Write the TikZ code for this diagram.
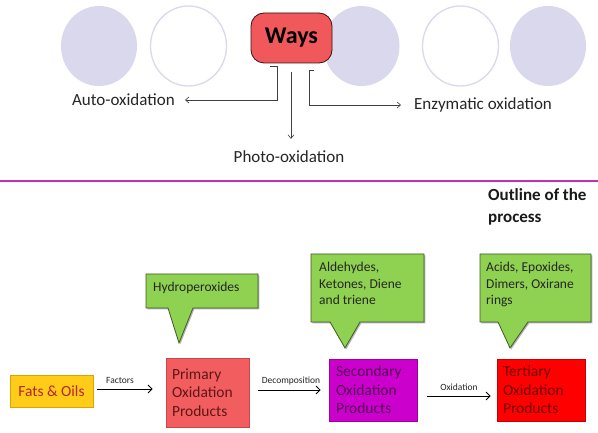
\documentclass[tikz,border=0pt]{standalone}
\usepackage{fontspec}
\setmainfont{Carlito}
\usetikzlibrary{arrows.meta,shadows}
\definecolor{lav}{HTML}{DAD8EC}
\definecolor{waysred}{HTML}{F0585C}
\definecolor{waysedge}{HTML}{3A1212}
\definecolor{sepline}{HTML}{C42FB8}
\definecolor{callfill}{HTML}{8FD150}
\definecolor{calledge}{HTML}{3F5C22}
\definecolor{primfill}{HTML}{F25E60}
\definecolor{primedge}{HTML}{C84848}
\definecolor{primtext}{HTML}{5E1616}
\definecolor{secfill}{HTML}{CC00CC}
\definecolor{secedge}{HTML}{A000A0}
\definecolor{sectext}{HTML}{560056}
\definecolor{terfill}{HTML}{FF0000}
\definecolor{teredge}{HTML}{C80000}
\definecolor{tertext}{HTML}{6E0000}
\definecolor{fatfill}{HTML}{FFCC1A}
\definecolor{fatedge}{HTML}{D9A300}
\definecolor{fattext}{HTML}{B82428}
\definecolor{toparrow}{HTML}{404040}
\begin{document}
\begin{tikzpicture}[x=1pt,y=-1pt,
  shad/.style={drop shadow={shadow xshift=1.3pt,shadow yshift=-1.3pt,opacity=0.3,fill=black}},
  filledc/.style={fill=lav,draw=none},
  openc/.style={fill=white,draw=lav,line width=1.3pt},
  toptext/.style={inner sep=0pt,font=\fontsize{17}{20}\selectfont,text=black!85},
  tarr/.style={draw=toparrow,line width=0.6pt,-{Straight Barb[length=3.5pt,width=6pt]}},
  prodbox/.style={line width=0.6pt,align=left,inner ysep=0pt,font=\fontsize{15.5}{18.5}\selectfont,shad},
  calltext/.style={inner sep=0pt,align=left,font=\fontsize{13.5}{16.5}\selectfont,text=black!85},
  callbody/.style={fill=callfill,draw=calledge,line width=0.8pt,line join=miter,shad},
  flow/.style={draw=black,line width=0.9pt,-{Straight Barb[length=4pt,width=8pt]}},
  lbl/.style={inner sep=0pt,font=\fontsize{9.5}{11}\selectfont,text=black!85}]
\useasboundingbox[fill=white] (0,0) rectangle (598,433);

% decorative circles
\path[filledc] (99,46) ellipse [x radius=38pt, y radius=40pt];
\path[openc] (188.5,46) ellipse [x radius=38pt, y radius=40pt];
\path[filledc] (361.5,46) ellipse [x radius=38pt, y radius=40pt];
\path[openc] (460.5,46) ellipse [x radius=38pt, y radius=40pt];
\path[filledc] (548,46) ellipse [x radius=38pt, y radius=40pt];

% Ways
\node[draw=waysedge,fill=waysred,line width=0.8pt,rounded corners=13pt,
      minimum width=81pt,minimum height=50pt,inner sep=0pt,
      font=\fontsize{24}{27}\selectfont\bfseries] (ways) at (291.5,38) {Ways};

% top texts
\node[toptext,anchor=east] (auto) at (175,100) {Auto-oxidation};
\node[toptext] (photo) at (289,157) {Photo-oxidation};
\node[toptext,anchor=west] (enz) at (414,105) {Enzymatic oxidation};

% top connectors
\coordinate (lb0) at (270,66);
\coordinate (lb1) at (277,66);
\coordinate (lb2) at (277,100);
\draw[tarr,shorten >=10pt] (lb0) -- (lb1) -- (lb2) -- (lb2 -| auto.east);
\coordinate (m0) at (291,72);
\draw[tarr,shorten >=12pt] (m0) -- (m0 |- photo.north);
\coordinate (rb0) at (314,70);
\coordinate (rb1) at (309,70);
\coordinate (rb2) at (309,105);
\draw[tarr,shorten >=13pt] (rb0) -- (rb1) -- (rb2) -- (rb2 -| enz.west);

% separator
\draw[sepline,line width=2pt] (0,181) -- (598,181);

% outline title
\node[anchor=north west,inner sep=0pt,align=left,font=\fontsize{17}{22}\selectfont\bfseries,text=black!90] (outline) at (488,188) {Outline of the\\process};

% callouts
\draw[callbody] (146,274) -- (258,274) -- (258,308) -- (193,308) -- (179,343) -- (168,308) -- (146,308) -- cycle;
\node[calltext,anchor=west] (c1) at (153,288) {Hydroperoxides};
\draw[callbody] (311,254) -- (424,254) -- (424,322) -- (360,322) -- (345,348) -- (330,322) -- (311,322) -- cycle;
\node[calltext,anchor=north west] (c2) at (319,262) {Aldehydes,\\Ketones, Diene\\and triene};
\draw[callbody] (480,254) -- (591,254) -- (591,322) -- (528,322) -- (510,348) -- (498,322) -- (480,322) -- cycle;
\node[calltext,anchor=north west] (c3) at (486,262) {Acids, Epoxides,\\Dimers, Oxirane\\rings};

% product boxes
\node[fill=fatfill,draw=fatedge,line width=0.6pt,minimum width=83pt,minimum height=32pt,inner sep=0pt,
      font=\fontsize{15.5}{18}\selectfont,text=fattext,shad] (fats) at (51.5,391) {Fats \& Oils};
\node[prodbox,fill=primfill,draw=primedge,text=primtext,minimum width=83pt,minimum height=69pt,
      inner xsep=6pt,text width=71pt] (prim) at (207.5,392.5) {Primary\\Oxidation\\Products};
\node[prodbox,fill=secfill,draw=secedge,text=sectext,minimum width=88pt,minimum height=62pt,
      inner xsep=7pt,text width=74pt] (sec) at (373,390) {Secondary\\Oxidation\\Products};
\node[prodbox,fill=terfill,draw=teredge,text=tertext,minimum width=88pt,minimum height=62pt,
      inner xsep=6pt,text width=76pt] (ter) at (541,390) {Tertiary\\Oxidation\\Products};

% flow arrows
\draw[flow,shorten <=4pt,shorten >=13pt] ([yshift=2pt]fats.east) -- ([yshift=2pt]fats.east -| prim.west);
\draw[flow,shorten <=9pt,shorten >=8pt] ([yshift=2.5pt]prim.east) -- ([yshift=2.5pt]prim.east -| sec.west);
\draw[flow,shorten <=10pt,shorten >=6pt] ([yshift=-6pt]sec.east) -- ([yshift=-6pt]sec.east -| ter.west);

% flow labels
\node[lbl] (lf) at (120,380) {Factors};
\node[lbl] (ld) at (291,381) {Decomposition};
\node[lbl] (lo) at (459,387) {Oxidation};
\end{tikzpicture}
\end{document}
